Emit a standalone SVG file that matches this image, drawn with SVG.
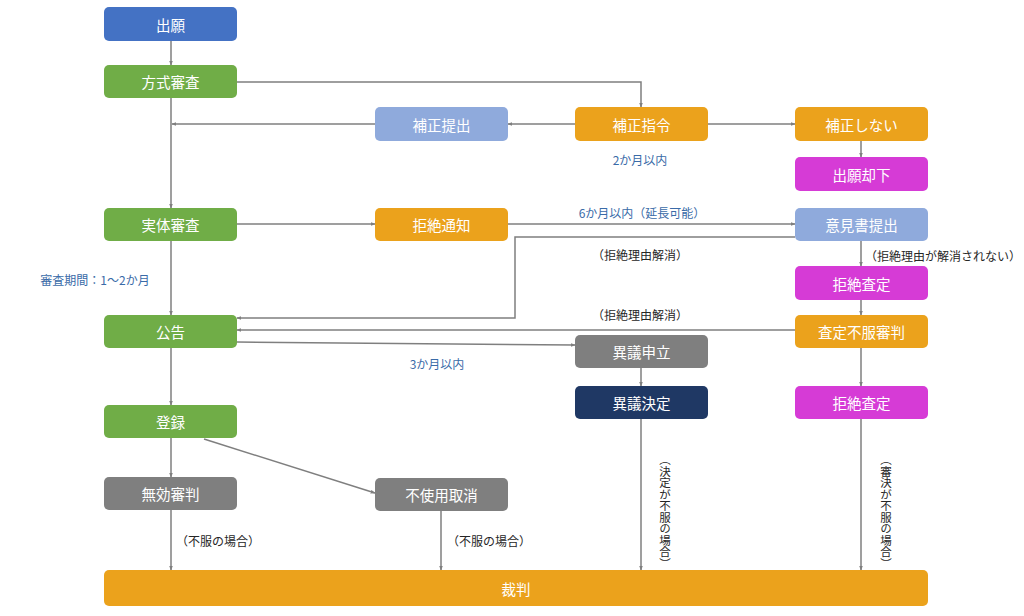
<svg xmlns="http://www.w3.org/2000/svg" width="1024" height="616" viewBox="0 0 1024 616">
<defs>
<marker id="ah" viewBox="0 0 8 8" refX="7" refY="4" markerWidth="5" markerHeight="5" orient="auto-start-reverse" markerUnits="userSpaceOnUse">
<path d="M0,1 L8,4 L0,7 z" fill="#7F7F7F"/>
</marker>
<style>
.box{rx:5;ry:5}
.t{font-family:"Noto Sans CJK JP","Noto Sans",sans-serif;font-size:14.5px;fill:#FFFFFF;text-anchor:middle;dominant-baseline:central}
.lb{font-family:"Noto Sans CJK JP","Noto Sans",sans-serif;font-size:12px;fill:#3A6BA8;text-anchor:middle;dominant-baseline:central}
.ld{font-family:"Noto Sans CJK JP","Noto Sans",sans-serif;font-size:12px;fill:#262626;text-anchor:middle;dominant-baseline:central}
.lv{font-family:"Noto Sans CJK JP","Noto Sans",sans-serif;font-size:11.5px;fill:#262626;writing-mode:vertical-rl;text-orientation:upright}
.c{fill:none;stroke:#7F7F7F;stroke-width:1.5}
.ca{fill:none;stroke:#7F7F7F;stroke-width:1.5;marker-end:url(#ah)}
.blue{fill:#4472C4}.green{fill:#70AD47}.lblue{fill:#8FAADC}.orange{fill:#EBA21C}.mag{fill:#D63BD6}.gray{fill:#7F7F7F}.navy{fill:#1F3864}
</style>
</defs>
<g id="connectors">
<path class="ca" d="M171,41 V65"/>
<path class="ca" d="M171,98 V208"/>
<path class="ca" d="M237,82 H641 V107"/>
<path class="ca" d="M575,124 H508"/>
<path class="ca" d="M375,124 H172"/>
<path class="ca" d="M708,124 H795"/>
<path class="ca" d="M861,141 V157"/>
<path class="ca" d="M237,224 H375"/>
<path class="ca" d="M508,224 H795"/>
<path class="ca" d="M795,237 H515 V318 H237"/>
<path class="ca" d="M171,241 V315"/>
<path class="ca" d="M861,241 V266"/>
<path class="ca" d="M861,300 V315"/>
<path class="ca" d="M795,330 H237"/>
<path class="ca" d="M237,342 L575,345"/>
<path class="ca" d="M641,368 V386"/>
<path class="ca" d="M641,419 V570"/>
<path class="ca" d="M861,348 V386"/>
<path class="ca" d="M861,419 V570"/>
<path class="ca" d="M171,348 V405"/>
<path class="ca" d="M171,438 V477"/>
<path class="ca" d="M204,439 L375,493"/>
<path class="ca" d="M171,510 V570"/>
<path class="ca" d="M441,511 V570"/>
</g>
<g id="labels">
<text class="lb" x="640" y="159">2か月以内</text>
<text class="lb" x="642" y="212">6か月以内（延長可能）</text>
<text class="ld" x="640" y="254">（拒絶理由解消）</text>
<text class="ld" x="943" y="255">（拒絶理由が解消されない）</text>
<text class="lb" x="95" y="279">審査期間：1～2か月</text>
<text class="ld" x="640" y="314">（拒絶理由解消）</text>
<text class="lb" x="437" y="363">3か月以内</text>
<text class="ld" x="218" y="540">（不服の場合）</text>
<text class="ld" x="489" y="540">（不服の場合）</text>
<text class="lv" x="665" y="454">（決定が不服の場合）</text>
<text class="lv" x="886" y="454">（審決が不服の場合）</text>
</g>
<g id="n_shutsugan"><rect class="box blue" x="104" y="7" width="133" height="34"/><text class="t" x="170.5" y="24">出願</text></g>
<g id="n_houshiki"><rect class="box green" x="104" y="65" width="133" height="33"/><text class="t" x="170.5" y="81.5">方式審査</text></g>
<g id="n_hoseiteishutsu"><rect class="box lblue" x="375" y="107" width="133" height="34"/><text class="t" x="441.5" y="124">補正提出</text></g>
<g id="n_hoseishirei"><rect class="box orange" x="575" y="107" width="133" height="34"/><text class="t" x="641.5" y="124">補正指令</text></g>
<g id="n_hoseishinai"><rect class="box orange" x="795" y="107" width="133" height="34"/><text class="t" x="861.5" y="124">補正しない</text></g>
<g id="n_kyakka"><rect class="box mag" x="795" y="157" width="133" height="34"/><text class="t" x="861.5" y="174">出願却下</text></g>
<g id="n_jittai"><rect class="box green" x="104" y="208" width="133" height="33"/><text class="t" x="170.5" y="224.5">実体審査</text></g>
<g id="n_kyozetsutsuchi"><rect class="box orange" x="375" y="208" width="133" height="33"/><text class="t" x="441.5" y="224.5">拒絶通知</text></g>
<g id="n_ikensho"><rect class="box lblue" x="795" y="208" width="133" height="33"/><text class="t" x="861.5" y="224.5">意見書提出</text></g>
<g id="n_kyozetsusatei1"><rect class="box mag" x="795" y="266" width="133" height="34"/><text class="t" x="861.5" y="283">拒絶査定</text></g>
<g id="n_koukoku"><rect class="box green" x="104" y="315" width="133" height="33"/><text class="t" x="170.5" y="331.5">公告</text></g>
<g id="n_fufukushinpan"><rect class="box orange" x="795" y="315" width="133" height="33"/><text class="t" x="861.5" y="331.5">査定不服審判</text></g>
<g id="n_igimoushitate"><rect class="box gray" x="575" y="335" width="133" height="33"/><text class="t" x="641.5" y="351.5">異議申立</text></g>
<g id="n_igiketei"><rect class="box navy" x="575" y="386" width="133" height="33"/><text class="t" x="641.5" y="402.5">異議決定</text></g>
<g id="n_kyozetsusatei2"><rect class="box mag" x="795" y="386" width="133" height="33"/><text class="t" x="861.5" y="402.5">拒絶査定</text></g>
<g id="n_touroku"><rect class="box green" x="104" y="405" width="133" height="33"/><text class="t" x="170.5" y="421.5">登録</text></g>
<g id="n_mukou"><rect class="box gray" x="104" y="477" width="133" height="33"/><text class="t" x="170.5" y="493.5">無効審判</text></g>
<g id="n_fushiyou"><rect class="box gray" x="375" y="478" width="133" height="33"/><text class="t" x="441.5" y="494.5">不使用取消</text></g>
<g id="n_saiban"><rect class="box orange" x="104" y="570" width="824" height="36"/><text class="t" x="516" y="588">裁判</text></g>
</svg>
